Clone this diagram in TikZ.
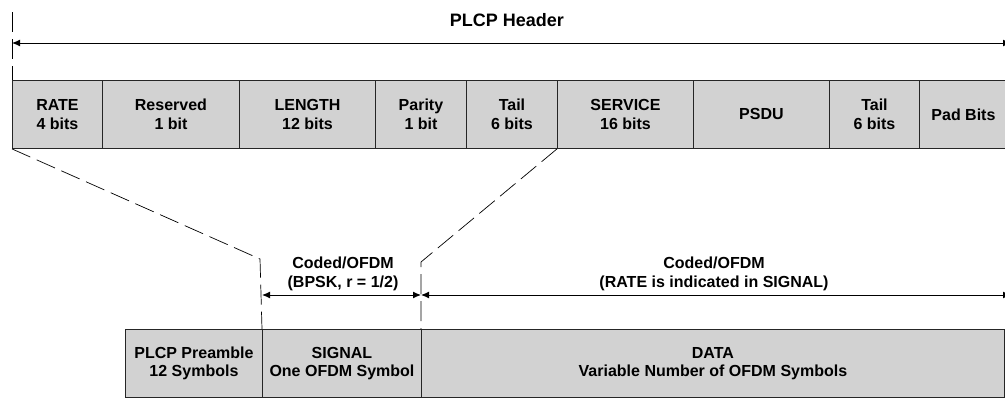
\documentclass[tikz,border=0pt]{standalone}
\usepackage{fontspec}
\setmainfont{Liberation Sans}
\usetikzlibrary{arrows.meta}
\begin{document}
\begin{tikzpicture}[x=1pt,y=-1pt,
  fld/.style={draw=black!85, fill=gray!35, line width=0.9pt, minimum height=68pt,
    anchor=north west, inner sep=0pt, align=center,
    font=\fontsize{16}{18.5}\selectfont\bfseries},
  dim/.style={line width=1pt, {Latex[length=8pt,width=7pt]}-{Latex[length=8pt,width=7pt]}},
  guide/.style={line width=0.7pt, dash pattern=on 20pt off 7pt},
  lbl/.style={align=center, inner sep=0pt, font=\fontsize{16}{18.5}\selectfont\bfseries}]
\useasboundingbox (0,0) rectangle (1005,399);
% top row fields
\node[fld, minimum width=90pt]  (rate)    at (12,80)  {RATE\\4 bits};
\node[fld, minimum width=137pt] (res)     at (102,80) {Reserved\\1 bit};
\node[fld, minimum width=136pt] (len)     at (239,80) {LENGTH\\12 bits};
\node[fld, minimum width=91pt]  (par)     at (375,80) {Parity\\1 bit};
\node[fld, minimum width=91pt]  (tail1)   at (466,80) {Tail\\6 bits};
\node[fld, minimum width=136pt] (service) at (557,80) {SERVICE\\16 bits};
\node[fld, minimum width=136pt] (psdu)    at (693,80) {PSDU};
\node[fld, minimum width=90pt]  (tail2)   at (829,80) {Tail\\6 bits};
\node[fld, minimum width=88pt]  (pad)     at (919,80) {Pad Bits};
% bottom row
\node[fld, minimum width=137pt] (pre)    at (125,329) {PLCP Preamble\\12 Symbols};
\node[fld, minimum width=159pt] (signal) at (262,329) {SIGNAL\\One OFDM Symbol};
\node[fld, minimum width=583pt] (data)   at (421,329) {DATA\\Variable Number of OFDM Symbols};
% header
\node[lbl, font=\fontsize{18}{21}\selectfont\bfseries] (hdr) at (507,20) {PLCP Header};
\coordinate (tl) at (12,12);
\coordinate (hl) at (12,43);
\coordinate (hr) at (1011,43);
\draw[guide] (tl) -- (rate.north west);
\draw[dim] (hl) -- (hr);
% guides
\coordinate (k1) at (260,259);
\coordinate (k2) at (421,262);
\draw[guide] (rate.south west) -- (k1) -- (signal.north west);
\draw[guide] (service.south west) -- (k2) -- (data.north west);
% middle dimension arrows
\coordinate (a1) at (262,295);
\coordinate (a2) at (421,295);
\coordinate (a3) at (1011,295);
\draw[dim] (a1) -- (a2);
\draw[dim] (a2) -- (a3);
\node[lbl] (l1) at (343,274) {Coded/OFDM\\(BPSK, r = 1/2)};
\node[lbl] (l2) at (714,274) {Coded/OFDM\\(RATE is indicated in SIGNAL)};
\end{tikzpicture}
\end{document}
